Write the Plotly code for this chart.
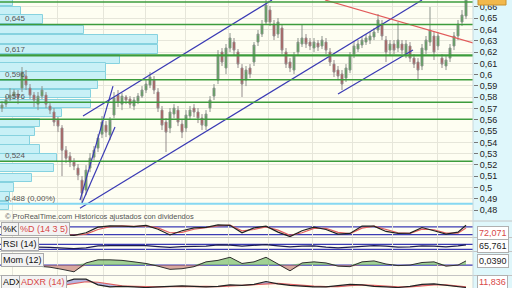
import numpy as np
import plotly.graph_objects as go

# ---------------- price data (one candle per session) ----------------
open_ = [0.5704,0.5739,0.5793,0.5810,0.5828,0.5881,0.5988,0.5881,0.5819,0.5739,
         0.5810,0.5819,0.5722,0.5669,0.5598,0.5527,0.5331,0.5278,0.5225,0.5172,
         0.5065,0.4977,0.5172,0.5269,0.5349,0.5473,0.5553,0.5465,0.5642,0.5819,
         0.5739,0.5802,0.5784,0.5722,0.5766,0.5810,0.5864,0.5908,0.5952,0.5846,
         0.5686,0.5580,0.5527,0.5651,0.5686,0.5562,0.5527,0.5633,0.5704,0.5669,
         0.5615,0.5544,0.5704,0.5810,0.5952,0.6201,0.6059,0.6236,0.6289,0.6201,
         0.6059,0.5952,0.6059,0.6112,0.6289,0.6360,0.6467,0.6573,0.6449,0.6360,
         0.6414,0.6201,0.6112,0.6041,0.6201,0.6272,0.6325,0.6289,0.6236,0.6280,
         0.6254,0.6289,0.6201,0.6094,0.6041,0.6006,0.5970,0.6041,0.6183,0.6227,
         0.6263,0.6289,0.6307,0.6334,0.6396,0.6449,0.6307,0.6218,0.6272,0.6236,
         0.6272,0.6183,0.6254,0.6147,0.6112,0.6077,0.6218,0.6289,0.6343,0.6254,
         0.6147,0.6077,0.6147,0.6254,0.6343,0.6467,0.6520]
high = [0.5766,0.5810,0.5881,0.5872,0.5864,0.6068,0.6041,0.5917,0.5846,0.5846,
        0.5899,0.5846,0.5748,0.5704,0.5624,0.5553,0.5367,0.5314,0.5260,0.5207,
        0.5101,0.5198,0.5305,0.5367,0.5473,0.5633,0.5589,0.5624,0.5846,0.5864,
        0.5837,0.5819,0.5810,0.5802,0.5837,0.5899,0.5952,0.6023,0.5988,0.5881,
        0.5722,0.5615,0.5704,0.5739,0.5722,0.5598,0.5686,0.5722,0.5739,0.5704,
        0.5651,0.5686,0.5810,0.5917,0.6218,0.6236,0.6272,0.6369,0.6325,0.6227,
        0.6094,0.6077,0.6094,0.6289,0.6396,0.6485,0.6680,0.6609,0.6485,0.6502,
        0.6449,0.6236,0.6147,0.6201,0.6325,0.6449,0.6360,0.6325,0.6325,0.6307,
        0.6343,0.6325,0.6236,0.6130,0.6077,0.6041,0.6094,0.6201,0.6289,0.6307,
        0.6343,0.6360,0.6378,0.6414,0.6538,0.6485,0.6343,0.6307,0.6307,0.6467,
        0.6307,0.6307,0.6289,0.6183,0.6147,0.6272,0.6343,0.6600,0.6378,0.6378,
        0.6183,0.6165,0.6272,0.6378,0.6485,0.6573,0.6733]
low = [0.5669,0.5713,0.5766,0.5784,0.5739,0.5846,0.5864,0.5784,0.5713,0.5686,
       0.5784,0.5704,0.5651,0.5544,0.5491,0.5101,0.5216,0.5181,0.5154,0.5065,
       0.4861,0.4932,0.5136,0.5243,0.5314,0.5438,0.5447,0.5420,0.5615,0.5713,
       0.5686,0.5739,0.5704,0.5686,0.5739,0.5793,0.5837,0.5881,0.5828,0.5669,
       0.5509,0.5314,0.5482,0.5615,0.5544,0.5438,0.5491,0.5598,0.5624,0.5571,
       0.5509,0.5509,0.5669,0.5775,0.5917,0.6077,0.6006,0.6201,0.6174,0.6059,
       0.5802,0.5899,0.5970,0.6077,0.6254,0.6334,0.6440,0.6431,0.6307,0.6325,
       0.6183,0.6059,0.6023,0.6006,0.6174,0.6245,0.6236,0.6218,0.6201,0.6210,
       0.6227,0.6183,0.6077,0.5979,0.5952,0.5864,0.5935,0.6014,0.6147,0.6201,
       0.6236,0.6263,0.6272,0.6307,0.6369,0.6307,0.6112,0.6165,0.6183,0.6201,
       0.6183,0.6147,0.6112,0.6059,0.5952,0.6041,0.6183,0.6254,0.6130,0.6218,
       0.6059,0.6041,0.6112,0.6218,0.6307,0.6431,0.6493]
close = [0.5731,0.5775,0.5819,0.5846,0.5793,0.6023,0.5908,0.5819,0.5775,0.5810,
         0.5864,0.5739,0.5686,0.5580,0.5544,0.5331,0.5260,0.5225,0.5190,0.5110,
         0.4950,0.5154,0.5260,0.5331,0.5438,0.5580,0.5491,0.5598,0.5793,0.5757,
         0.5810,0.5775,0.5739,0.5775,0.5810,0.5864,0.5917,0.5979,0.5864,0.5704,
         0.5553,0.5491,0.5669,0.5704,0.5580,0.5491,0.5642,0.5686,0.5669,0.5615,
         0.5553,0.5651,0.5775,0.5881,0.6174,0.6112,0.6236,0.6325,0.6218,0.6094,
         0.5917,0.6041,0.6006,0.6263,0.6360,0.6440,0.6618,0.6467,0.6343,0.6467,
         0.6218,0.6094,0.6059,0.6165,0.6289,0.6325,0.6272,0.6254,0.6289,0.6245,
         0.6307,0.6218,0.6112,0.6023,0.5988,0.5917,0.6059,0.6165,0.6254,0.6272,
         0.6307,0.6325,0.6343,0.6378,0.6485,0.6343,0.6201,0.6272,0.6218,0.6307,
         0.6218,0.6272,0.6147,0.6094,0.6041,0.6236,0.6307,0.6396,0.6201,0.6343,
         0.6094,0.6130,0.6236,0.6343,0.6449,0.6529,0.6662]
session = list(range(len(close)))
month_starts = [2.5, 13.75, 25.25, 35.75, 45.75, 56.5, 66.5, 77.5, 87.5, 97.5, 108.75]

# horizontal support / resistance levels
support_levels = [0.6644, 0.6445, 0.6171, 0.5955, 0.5755, 0.5605, 0.5233]
support_main = 0.6171
base_level = 0.4855
level_label_text = ["0,645", "0,617", "0,596", "0,576", "0,524", "0,488 (0,00%)"]
level_label_price = [0.6445, 0.6171, 0.5955, 0.5755, 0.5233, 0.4855]

# volume-at-price profile
profile_price = [0.6644, 0.6564, 0.6489, 0.6396, 0.6312, 0.6223, 0.6134, 0.6063,
                 0.5988, 0.5908, 0.5828, 0.5739, 0.5660, 0.5571, 0.5491, 0.5416,
                 0.5336, 0.5260, 0.5172, 0.5083, 0.4999, 0.4919, 0.4835]
profile_volume = [13, 21, 43, 84, 158, 158, 120, 106, 106, 98, 91, 91, 62, 40,
                  35, 30, 40, 57, 54, 32, 14, 10, 9]

# trend lines (session index, price)
trend_x = [[19.5, 105.0], [20.25, 67.5], [84.0, 102.75], [19.5, 27.75], [20.0, 28.25]]
trend_y = [[0.4817, 0.6662], [0.5633, 0.6662], [0.5828, 0.6218], [0.4888, 0.5899], [0.4862, 0.5536]]
resist_x = [80.75, 117.75]
resist_y = [0.6662, 0.6281]

# indicators (sampled sessions)
ind_x = [0,3,6,9,12,15,18,21,24,27,30,33,36,39,42,45,48,51,54,57,60,63,66,69,72,75,78,
         81,84,87,90,93,96,99,102,105,108,111,114,116]
stoch_k = [40,42,48,38,28,18,15,35,78,88,86,82,92,62,18,50,72,76,95,92,35,72,85,40,5,50,
           78,60,25,30,86,85,45,30,32,75,50,25,40,92]
stoch_d = [40,41,45,42,32,22,17,25,60,82,87,84,88,72,35,38,62,74,88,93,50,60,80,55,15,35,
           68,68,38,28,70,86,58,35,30,62,58,32,32,72]
rsi = [50,50,52,48,45,38,36,42,58,60,58,57,60,52,45,52,54,55,66,64,55,62,68,58,50,56,57,
       48,42,48,56,60,55,48,50,58,55,50,58,66]
mom = [-0.005,-0.01,0.0,-0.01,-0.02,-0.04,-0.063,0.02,0.049,0.049,0.044,0.03,0.015,-0.01,
       -0.04,-0.034,-0.015,0.03,0.044,0.073,0.015,0.03,0.073,0.01,-0.054,0.02,0.03,0.02,
       -0.01,-0.015,0.03,0.039,0.01,-0.005,0.0,0.024,0.03,-0.01,0.0,0.039]
adx = [22,22,20,18,16,30,44,44,22,14,16,14,12,14,16,18,16,14,16,22,20,24,35,26,20,16,14,
       14,18,24,22,16,14,12,16,24,26,20,14,12]
adxr = [24,23,22,20,18,20,28,34,32,24,18,16,14,14,15,16,17,16,15,18,20,22,26,28,24,20,17,
        15,15,19,22,20,16,14,14,18,22,22,18,14]

# ---------------- layout constants ----------------
W, H = 512, 288
XR = 473 / W
D_MAIN = [1 - 221 / H, 1.0]
D_STO = [1 - 237.5 / H, 1 - 221 / H]
D_RSI = [1 - 251.5 / H, 1 - 237.5 / H]
D_MOM = [1 - 275.5 / H, 1 - 251.5 / H]
D_ADX = [0.0, 1 - 275.5 / H]
XRANGE = [-0.5, 117.75]
FONT = "Liberation Sans, Arial, sans-serif"
BLUE = "#3a3ab4"

fig = go.Figure()

# volume profile (base subplot x2/y)
fig.add_trace(go.Bar(y=profile_price, x=profile_volume, orientation="h", width=0.0075,
                     marker=dict(color="#c8f0f6", line=dict(color="#86d2df", width=1)),
                     xaxis="x2", yaxis="y", hoverinfo="skip"))

# candles (overlay x3/y)
fig.add_trace(go.Candlestick(x=session, open=open_, high=high, low=low, close=close,
                             xaxis="x3", yaxis="y",
                             increasing=dict(line=dict(color="#8c948c", width=1), fillcolor="#46a846"),
                             decreasing=dict(line=dict(color="#948c8c", width=1), fillcolor="#b84848"),
                             whiskerwidth=0))
for tx, ty in zip(trend_x, trend_y):
    fig.add_trace(go.Scatter(x=tx, y=ty, mode="lines", line=dict(color=BLUE, width=1.2),
                             xaxis="x3", yaxis="y"))
fig.add_trace(go.Scatter(x=resist_x, y=resist_y, mode="lines", line=dict(color="#e25a5a", width=1.2),
                         xaxis="x3", yaxis="y"))

# stochastic
fig.add_trace(go.Scatter(x=ind_x, y=stoch_d, mode="lines", line=dict(color="#e06060", width=1.2),
                         xaxis="x", yaxis="y3"))
fig.add_trace(go.Scatter(x=ind_x, y=stoch_k, mode="lines", line=dict(color="#222222", width=1.2),
                         xaxis="x", yaxis="y3"))
# RSI
fig.add_trace(go.Scatter(x=ind_x, y=rsi, mode="lines", line=dict(color="#1a1a50", width=1.2),
                         xaxis="x", yaxis="y4"))
# momentum
mom_arr = np.array(mom)
fig.add_trace(go.Scatter(x=ind_x, y=np.maximum(mom_arr, 0), mode="lines", line=dict(width=0),
                         fill="tozeroy", fillcolor="rgba(110,185,95,0.65)", xaxis="x", yaxis="y5"))
fig.add_trace(go.Scatter(x=ind_x, y=np.minimum(mom_arr, 0), mode="lines", line=dict(width=0),
                         fill="tozeroy", fillcolor="rgba(190,110,100,0.6)", xaxis="x", yaxis="y5"))
fig.add_trace(go.Scatter(x=ind_x, y=mom, mode="lines", line=dict(color="#303030", width=1),
                         xaxis="x", yaxis="y5"))
# ADX
fig.add_trace(go.Scatter(x=ind_x, y=adxr, mode="lines", line=dict(color="#e06060", width=1.2),
                         xaxis="x", yaxis="y6"))
fig.add_trace(go.Scatter(x=ind_x, y=adx, mode="lines", line=dict(color="#222222", width=1.2),
                         fill="tonexty", fillcolor="rgba(120,120,210,0.55)", xaxis="x", yaxis="y6"))

shapes = []
for lv in support_levels:
    shapes.append(dict(type="line", xref="x2 domain", yref="y", x0=0, x1=1, y0=lv, y1=lv,
                       line=dict(color="#3c9c3c", width=2.2 if lv == support_main else 1.4),
                       layer="above"))
shapes.append(dict(type="line", xref="x2 domain", yref="y", x0=0, x1=1, y0=base_level, y1=base_level,
                   line=dict(color="#86d8f2", width=2), layer="above"))
# indicator reference lines
for yr, lv in [("y3", 20), ("y3", 80), ("y4", 30), ("y4", 70), ("y5", 0)]:
    shapes.append(dict(type="line", xref="x domain", yref=yr, x0=0, x1=1, y0=lv, y1=lv,
                       line=dict(color=BLUE, width=1.2), layer="below"))
# pane separators
for yb in [D_STO[1], D_RSI[1], D_MOM[1], D_ADX[1]]:
    shapes.append(dict(type="line", xref="paper", yref="paper", x0=0, x1=1, y0=yb, y1=yb,
                       line=dict(color="#c4c4c4", width=1), layer="above"))
# last-price tag (cut at top)
shapes.append(dict(type="rect", xref="paper", yref="paper", x0=478 / W, x1=506 / W,
                   y0=1 - 5 / H, y1=1.02, fillcolor="#f2b84b", line=dict(color="#c8902c", width=1)))
# right axis panel edge
shapes.append(dict(type="line", xref="paper", yref="paper", x0=XR, x1=XR, y0=0, y1=1,
                   line=dict(color="#c8d8dc", width=1), layer="above"))

ann = []
for t, p in zip(level_label_text, level_label_price):
    ann.append(dict(xref="paper", yref="y", x=3 / W, y=p, text=t, showarrow=False,
                    xanchor="left", yanchor="bottom", yshift=-1,
                    font=dict(size=8, color="#555555", family=FONT)))
ann.append(dict(xref="paper", yref="paper", x=3 / W, y=1 - 216.5 / H,
                text="© ProRealTime.com Históricos ajustados con dividendos",
                showarrow=False, xanchor="left", yanchor="middle",
                font=dict(size=7.5, color="#555555", family=FONT)))

def label(x, y, text, color):
    return dict(xref="paper", yref="paper", x=x / W, y=1 - y / H, text=text, showarrow=False,
                xanchor="left", yanchor="middle", bgcolor="#f3f3f3", bordercolor="#aaaaaa",
                borderwidth=1, borderpad=1, font=dict(size=9, color=color, family=FONT))

ann += [label(1, 229, "%K", "#111111"), label(18, 229, "%D (14 3 5)", "#d84848"),
        label(1, 243.5, "RSI (14)", "#111111"), label(1, 259.5, "Mom (12)", "#111111"),
        label(1, 281.5, "ADX", "#111111"), label(19, 281.5, "ADXR (14)", "#d84848")]

def vbox(y, text, color):
    return dict(xref="paper", yref="paper", x=477 / W, y=1 - y / H, text=text, showarrow=False,
                xanchor="left", yanchor="middle", bgcolor="#ffffff", bordercolor="#b0b0b0",
                borderwidth=1, borderpad=1, font=dict(size=9, color=color, family=FONT))

ann += [vbox(233, "72,071", "#d84848"), vbox(246, "65,761", "#222222"),
        vbox(261, "0,0390", "#222222"), vbox(281.5, "11,836", "#d84848")]

grid_col = "#e6e6da"
lower_y = dict(showticklabels=False, showgrid=False, zeroline=False, ticks="", fixedrange=True)

fig.update_layout(
    width=W, height=H, margin=dict(l=0, r=0, t=0, b=0),
    paper_bgcolor="#dff7fb", plot_bgcolor="#fefef2",
    showlegend=False, separators=",.", font=dict(family=FONT),
    bargap=0,
    xaxis=dict(domain=[0, XR], anchor="y6", range=XRANGE, tickvals=month_starts,
               showticklabels=False, ticks="", showgrid=True, gridcolor=grid_col, zeroline=False),
    xaxis2=dict(domain=[0, XR], anchor="y", range=[0, 473], visible=False),
    xaxis3=dict(overlaying="x2", anchor="y", range=XRANGE, tickvals=month_starts,
                showticklabels=False, ticks="", showgrid=True, gridcolor=grid_col,
                zeroline=False, rangeslider=dict(visible=False)),
    yaxis=dict(domain=D_MAIN, anchor="x2", side="right", range=[0.4703, 0.6662], dtick=0.01,
               tick0=0, showgrid=True, gridcolor=grid_col, zeroline=False, ticks="outside",
               ticklen=4, tickcolor="#777777", tickfont=dict(size=9, color="#222222", family=FONT),
               automargin=False),
    yaxis3=dict(domain=D_STO, anchor="x", range=[-1.4, 125], **lower_y),
    yaxis4=dict(domain=D_RSI, anchor="x", range=[13, 123.6], **lower_y),
    yaxis5=dict(domain=D_MOM, anchor="x", range=[-0.0975, 0.127], **lower_y),
    yaxis6=dict(domain=D_ADX, anchor="x", range=[10, 58], **lower_y),
    shapes=shapes, annotations=ann,
)

fig.write_html("out.html")
